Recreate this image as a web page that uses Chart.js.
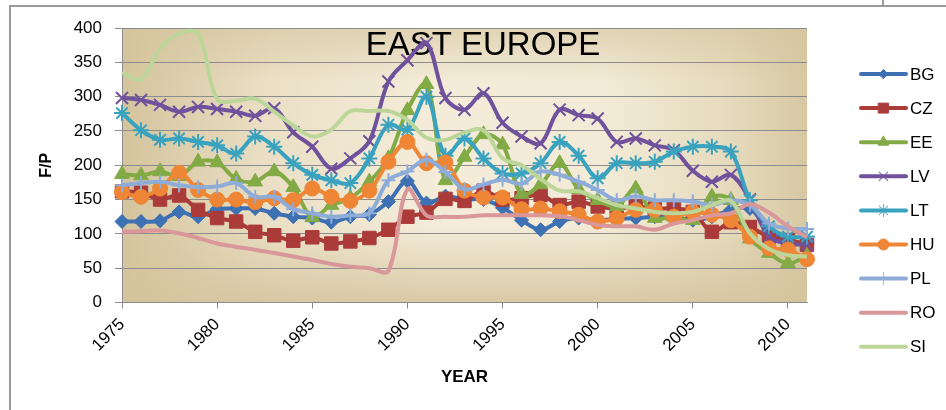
<!DOCTYPE html>
<html>
<head>
<meta charset="utf-8">
<script src="https://cdn.jsdelivr.net/npm/chart.js@4/dist/chart.umd.min.js"></script>
<style>
  html, body { margin: 0; padding: 0; background: #ffffff; }
  #wrap { width: 946px; height: 410px; position: relative; }
</style>
</head>
<body>
<div id="wrap"><canvas id="c" width="946" height="410"></canvas></div>
<script>
// Years on the horizontal axis
const YEARS = [1975, 1976, 1977, 1978, 1979, 1980, 1981, 1982, 1983, 1984,
               1985, 1986, 1987, 1988, 1989, 1990, 1991, 1992, 1993, 1994,
               1995, 1996, 1997, 1998, 1999, 2000, 2001, 2002, 2003, 2004,
               2005, 2006, 2007, 2008, 2009, 2010, 2011];

// F/P by country
const BG = [118, 118, 119, 132, 125, 136, 137, 137, 130, 125,
            123, 117, 125, 128, 147, 177, 145, 155, 150, 150,
            138, 120, 106, 118, 123, 120, 122, 123, 125, 125,
            120, 125, 135, 137, 105, 91, 86];
const CZ = [162, 160, 150, 156, 135, 123, 118, 103, 98, 90,
            95, 86, 89, 94, 106, 125, 131, 151, 148, 163,
            150, 152, 157, 142, 147, 140, 137, 140, 137, 137,
            132, 103, 117, 110, 96, 91, 84];
const EE = [187, 185, 191, 184, 205, 204, 180, 176, 191, 168,
            124, 142, 152, 176, 210, 280, 318, 178, 212, 245,
            230, 158, 172, 203, 165, 149, 140, 166, 123, 125,
            120, 154, 149, 93, 72, 57, 68];
const LV = [298, 295, 288, 278, 285, 282, 278, 272, 283, 248,
            227, 195, 210, 235, 322, 353, 378, 298, 281, 305,
            262, 242, 232, 281, 273, 268, 234, 239, 229, 222,
            192, 176, 186, 150, 96, 86, 84];
const LT = [276, 251, 237, 239, 234, 229, 217, 242, 227, 203,
            186, 178, 174, 210, 259, 252, 300, 214, 239, 210,
            188, 188, 203, 234, 214, 181, 203, 203, 205, 220,
            227, 227, 220, 149, 111, 96, 96];
const HU = [161, 154, 166, 189, 164, 150, 150, 146, 152, 149,
            166, 154, 148, 163, 205, 234, 203, 204, 163, 153,
            153, 136, 137, 133, 128, 118, 123, 135, 135, 125,
            132, 128, 120, 96, 79, 77, 63];
const PL = [171, 174, 176, 171, 168, 169, 174, 154, 154, 136,
            130, 125, 127, 130, 178, 191, 208, 190, 165, 172,
            179, 173, 191, 186, 176, 164, 149, 155, 149, 149,
            147, 142, 149, 142, 115, 108, 107];
const RO = [103, 104, 105, 101, 94, 86, 81, 77, 72, 67,
            62, 56, 52, 50, 46, 165, 127, 125, 125, 127,
            127, 127, 127, 126, 120, 113, 111, 111, 106, 115,
            120, 127, 130, 143, 131, 111, 95];
const SI = [335, 325, 370, 392, 392, 296, 294, 297, 278, 258,
            242, 252, 279, 279, 279, 266, 240, 237, 248, 251,
            210, 200, 180, 163, 162, 152, 142, 137, 132, 130,
            132, 142, 148, 101, 78, 69, 67];

const SERIES_NAMES = ['BG', 'CZ', 'EE', 'LV', 'LT', 'HU', 'PL', 'RO', 'SI'];
const SERIES_VALUES = [BG, CZ, EE, LV, LT, HU, PL, RO, SI];
const CHART_TITLE = 'EAST EUROPE';
const X_TITLE = 'YEAR';
const Y_TITLE = 'F/P';

// Line colour and marker for each country, in the same order as SERIES_NAMES
const STYLES = [
  { color: '#3e70b4', marker: 'rectRot',  r: 7,   bw: 1, lr: 4.5 },
  { color: '#ab3b39', marker: 'rect',     r: 9.5, bw: 1, lr: 7 },
  { color: '#82aa45', marker: 'triangle', r: 8.5, bw: 1, lr: 6 },
  { color: '#6f519c', marker: 'crossRot', r: 8.5, bw: 2, lr: 6 },
  { color: '#39a2bf', marker: 'star',     r: 8,   bw: 2, lr: 6 },
  { color: '#ee8636', marker: 'circle',   r: 7.5, bw: 1, lr: 5.5 },
  { color: '#8eacd8', marker: 'cross',    r: 7,   bw: 2, lr: 6 },
  { color: '#d9979a', marker: false,      r: 0,   bw: 0, lr: 0 },
  { color: '#bcd69a', marker: false,      r: 0,   bw: 0, lr: 0 }
];

const FONT = '"Liberation Sans", Arial, sans-serif';

const datasets = SERIES_NAMES.map((name, i) => {
  const s = STYLES[i];
  return {
    label: name,
    data: SERIES_VALUES[i].map((v, k) => ({ x: YEARS[k], y: v })),
    borderColor: s.color,
    backgroundColor: s.color,
    borderWidth: 4,
    tension: 0.35,
    pointStyle: s.marker || 'circle',
    pointRadius: s.marker ? s.r : 0,
    pointHoverRadius: s.marker ? s.r : 0,
    pointBackgroundColor: s.color,
    pointBorderColor: s.color,
    pointBorderWidth: s.bw,
    legendRadius: s.lr,
    hasMarker: !!s.marker,
    clip: 12,
    order: SERIES_NAMES.length - i
  };
});

// Parchment fill of the plot area and the outer frame lines
const plotBackground = {
  id: 'plotBackground',
  beforeDraw(chart) {
    const { ctx, chartArea: a } = chart;
    const w = a.right - a.left, h = a.bottom - a.top;
    ctx.save();
    let g = ctx.createLinearGradient(a.left, 0, a.right, 0);
    g.addColorStop(0, '#d4c49d');
    g.addColorStop(0.22, '#ebe0c6');
    g.addColorStop(0.45, '#f4ecd9');
    g.addColorStop(0.70, '#f3ebd7');
    g.addColorStop(0.88, '#e6dbbe');
    g.addColorStop(1, '#d6c8a2');
    ctx.fillStyle = g;
    ctx.fillRect(a.left, a.top, w, h);
    g = ctx.createLinearGradient(0, a.top, 0, a.bottom);
    g.addColorStop(0, 'rgba(212,196,157,0.6)');
    g.addColorStop(0.2, 'rgba(212,196,157,0)');
    g.addColorStop(0.72, 'rgba(212,196,157,0)');
    g.addColorStop(1, 'rgba(212,196,157,0.85)');
    ctx.fillStyle = g;
    ctx.fillRect(a.left, a.top, w, h);

    ctx.strokeStyle = '#9a9a9a';
    ctx.lineWidth = 2;
    ctx.beginPath();
    ctx.moveTo(10, 410);
    ctx.lineTo(10, 6);
    ctx.lineTo(946, 6);
    ctx.moveTo(883, 0);
    ctx.lineTo(883, 6);
    ctx.stroke();
    ctx.restore();
  }
};

// Chart heading placed inside the plot area
const plotHeading = {
  id: 'plotHeading',
  beforeDatasetsDraw(chart) {
    const ctx = chart.ctx;
    ctx.save();
    ctx.font = '33px ' + FONT;
    ctx.fillStyle = '#000000';
    ctx.textBaseline = 'alphabetic';
    ctx.textAlign = 'center';
    const tw = ctx.measureText(CHART_TITLE).width;
    const target = 241;
    const cx = 483;
    ctx.translate(cx, 55);
    if (tw > target) ctx.scale(target / tw, 1);
    ctx.fillText(CHART_TITLE, 0, 0);
    ctx.restore();
  }
};

// Legend on the right: line sample with its marker, then the country code
const sideLegend = {
  id: 'sideLegend',
  afterDraw(chart) {
    const ctx = chart.ctx;
    chart.data.datasets.forEach((ds, i) => {
      const y = 74 + i * 34.1;
      ctx.save();
      ctx.strokeStyle = ds.borderColor;
      ctx.lineWidth = 4;
      ctx.lineCap = 'round';
      ctx.beginPath();
      ctx.moveTo(861, y);
      ctx.lineTo(906, y);
      ctx.stroke();
      if (ds.hasMarker) {
        ctx.fillStyle = ds.pointBackgroundColor;
        ctx.strokeStyle = ds.pointBorderColor;
        const thin = ['crossRot', 'star', 'cross'].includes(ds.pointStyle);
        ctx.lineWidth = thin ? 1.2 : 1;
        if (thin) ctx.globalAlpha = 0.75;
        Chart.helpers.drawPoint(ctx, {
          pointStyle: ds.pointStyle,
          radius: ds.legendRadius,
          rotation: 0,
          borderWidth: ctx.lineWidth
        }, 883.5, y);
      }
      ctx.globalAlpha = 1;
      ctx.fillStyle = '#000000';
      ctx.font = '17px ' + FONT;
      ctx.textAlign = 'left';
      ctx.textBaseline = 'middle';
      ctx.fillText(ds.label, 910, y + 1);
      ctx.restore();
    });
  }
};

new Chart(document.getElementById('c'), {
  type: 'line',
  data: { datasets },
  plugins: [plotBackground, plotHeading, sideLegend],
  options: {
    responsive: false,
    animation: false,
    devicePixelRatio: 1,
    layout: { padding: { left: 0, top: 28, right: 139, bottom: 0 } },
    plugins: {
      legend: { display: false },
      title: { display: false },
      tooltip: { enabled: false }
    },
    scales: {
      x: {
        type: 'linear',
        min: 1975,
        max: 2011,
        afterFit: (s) => { s.height = 107.5; },
        border: { display: true, color: '#8c8c8c', width: 1 },
        grid: { drawOnChartArea: false, drawTicks: true, tickLength: 6, color: '#8c8c8c' },
        ticks: {
          stepSize: 5,
          includeBounds: false,
          autoSkip: false,
          maxRotation: 45,
          minRotation: 45,
          padding: 6,
          color: '#000000',
          font: { family: FONT, size: 17 },
          callback: (v) => String(v)
        },
        title: {
          display: true,
          text: X_TITLE,
          color: '#000000',
          font: { family: FONT, size: 17, weight: 'bold' },
          padding: { top: 0, bottom: 22 }
        }
      },
      y: {
        min: 0,
        max: 400,
        afterFit: (s) => { s.width = 122; },
        border: { display: true, color: '#8c8c8c', width: 1 },
        grid: { drawTicks: true, tickLength: 7, color: '#8c8c8c', lineWidth: 1 },
        ticks: {
          stepSize: 50,
          padding: 13,
          color: '#000000',
          font: { family: FONT, size: 17 }
        },
        title: {
          display: true,
          text: Y_TITLE,
          color: '#000000',
          font: { family: FONT, size: 16, weight: 'bold' },
          padding: { top: 37, bottom: 0 }
        }
      }
    }
  }
});
</script>
</body>
</html>
